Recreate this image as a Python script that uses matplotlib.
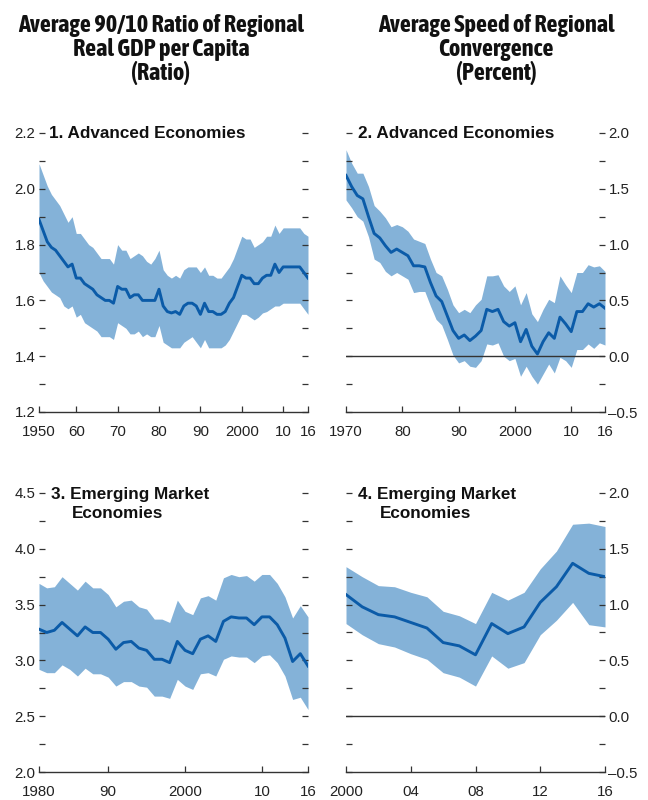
import matplotlib
matplotlib.use('Agg')
import matplotlib.pyplot as plt
from matplotlib import font_manager
from matplotlib.ticker import FixedLocator, MultipleLocator, FuncFormatter
import numpy as np

plt.rcParams['font.family'] = ['Liberation Sans', 'DejaVu Sans']

# ---------------- data ----------------
# Panel 1: 90/10 ratio, advanced economies, 1951-2016
p1_start, p1_end = 1951, 2016
p1_mean = [1.89, 1.85, 1.81, 1.79, 1.78, 1.76, 1.74, 1.72, 1.73, 1.68,
           1.68, 1.66, 1.65, 1.64, 1.62, 1.61, 1.60, 1.60, 1.59, 1.65,
           1.64, 1.64, 1.61, 1.62, 1.62, 1.60, 1.60, 1.60, 1.60, 1.64,
           1.58, 1.56, 1.555, 1.56, 1.55, 1.58, 1.59, 1.59, 1.58, 1.55,
           1.59, 1.56, 1.56, 1.55, 1.55, 1.56, 1.59, 1.61, 1.65, 1.69,
           1.68, 1.68, 1.66, 1.66, 1.68, 1.69, 1.69, 1.73, 1.70, 1.72,
           1.72, 1.72, 1.72, 1.72, 1.70, 1.68]
p1_upper = [2.09, 2.05, 2.01, 1.98, 1.96, 1.94, 1.91, 1.88, 1.90, 1.84,
            1.84, 1.82, 1.80, 1.79, 1.77, 1.75, 1.75, 1.75, 1.73, 1.80,
            1.78, 1.78, 1.75, 1.76, 1.77, 1.76, 1.74, 1.73, 1.75, 1.78,
            1.71, 1.69, 1.68, 1.69, 1.68, 1.71, 1.72, 1.72, 1.72, 1.70,
            1.72, 1.69, 1.69, 1.68, 1.68, 1.70, 1.72, 1.75, 1.79, 1.83,
            1.82, 1.82, 1.79, 1.80, 1.81, 1.83, 1.83, 1.87, 1.84, 1.86,
            1.86, 1.86, 1.86, 1.86, 1.84, 1.83]
p1_lower = [1.70, 1.67, 1.65, 1.63, 1.62, 1.61, 1.58, 1.57, 1.58, 1.54,
            1.55, 1.52, 1.51, 1.50, 1.49, 1.47, 1.47, 1.47, 1.46, 1.52,
            1.51, 1.50, 1.48, 1.48, 1.49, 1.47, 1.48, 1.47, 1.47, 1.51,
            1.45, 1.44, 1.43, 1.43, 1.43, 1.45, 1.46, 1.47, 1.45, 1.43,
            1.46, 1.43, 1.43, 1.43, 1.43, 1.44, 1.46, 1.49, 1.52, 1.55,
            1.55, 1.54, 1.53, 1.54, 1.555, 1.56, 1.57, 1.58, 1.58, 1.59,
            1.59, 1.59, 1.59, 1.59, 1.57, 1.55]

# Panel 2: speed of convergence, advanced economies, 1970-2016
p2_start, p2_end = 1970, 2016
p2_mean = [1.62, 1.52, 1.44, 1.41, 1.25, 1.10, 1.06, 0.99, 0.93, 0.96,
           0.93, 0.90, 0.81, 0.81, 0.80, 0.66, 0.54, 0.49, 0.36, 0.23,
           0.16, 0.19, 0.14, 0.18, 0.23, 0.42, 0.40, 0.42, 0.31, 0.27,
           0.30, 0.13, 0.24, 0.09, 0.02, 0.13, 0.21, 0.16, 0.35, 0.29,
           0.22, 0.40, 0.40, 0.47, 0.44, 0.47, 0.43]
p2_upper = [1.85, 1.73, 1.64, 1.64, 1.52, 1.35, 1.30, 1.24, 1.16, 1.18,
            1.16, 1.12, 1.05, 1.03, 1.01, 0.87, 0.75, 0.72, 0.60, 0.46,
            0.39, 0.42, 0.39, 0.46, 0.51, 0.72, 0.72, 0.73, 0.63, 0.58,
            0.63, 0.46, 0.57, 0.38, 0.31, 0.42, 0.51, 0.48, 0.72, 0.64,
            0.57, 0.75, 0.75, 0.82, 0.80, 0.81, 0.76]
p2_lower = [1.40, 1.33, 1.25, 1.21, 1.07, 0.87, 0.84, 0.76, 0.72, 0.75,
            0.72, 0.69, 0.57, 0.58, 0.58, 0.45, 0.33, 0.28, 0.15, 0.01,
            -0.06, -0.04, -0.09, -0.10, -0.04, 0.11, 0.10, 0.12, 0.00, -0.04,
            -0.02, -0.18, -0.09, -0.18, -0.25, -0.16, -0.07, -0.15, -0.01, -0.04,
            -0.10, 0.06, 0.06, 0.11, 0.07, 0.12, 0.10]

# Panel 3: 90/10 ratio, emerging market economies, 1981-2016
p3_start, p3_end = 1981, 2016
p3_mean = [3.28, 3.25, 3.27, 3.34, 3.28, 3.22, 3.30, 3.25, 3.25, 3.19,
           3.10, 3.16, 3.17, 3.11, 3.09, 3.01, 3.01, 2.98, 3.17, 3.09,
           3.06, 3.19, 3.22, 3.17, 3.35, 3.39, 3.38, 3.38, 3.32, 3.39,
           3.39, 3.32, 3.20, 2.99, 3.06, 2.95]
p3_upper = [3.69, 3.65, 3.66, 3.75, 3.69, 3.63, 3.71, 3.65, 3.65, 3.59,
            3.48, 3.53, 3.54, 3.48, 3.46, 3.37, 3.37, 3.34, 3.54, 3.44,
            3.41, 3.56, 3.58, 3.54, 3.74, 3.77, 3.75, 3.76, 3.71, 3.77,
            3.77, 3.69, 3.57, 3.38, 3.49, 3.39]
p3_lower = [2.92, 2.89, 2.89, 2.96, 2.92, 2.86, 2.93, 2.88, 2.88, 2.85,
            2.77, 2.81, 2.81, 2.77, 2.76, 2.68, 2.68, 2.66, 2.83, 2.77,
            2.74, 2.88, 2.89, 2.86, 3.01, 3.04, 3.03, 3.03, 2.98, 3.04,
            3.05, 2.98, 2.86, 2.65, 2.67, 2.56]

# Panel 4: speed of convergence, emerging market economies, 2000-2016
p4_start, p4_end = 2000, 2016
p4_mean = [1.09, 0.98, 0.91, 0.89, 0.84, 0.79, 0.66, 0.63, 0.55, 0.83,
           0.74, 0.80, 1.02, 1.16, 1.37, 1.28, 1.25]
p4_upper = [1.34, 1.25, 1.17, 1.16, 1.11, 1.07, 0.94, 0.90, 0.83, 1.11,
            1.04, 1.11, 1.32, 1.48, 1.72, 1.73, 1.70]
p4_lower = [0.83, 0.73, 0.65, 0.62, 0.56, 0.51, 0.39, 0.35, 0.27, 0.54,
            0.43, 0.48, 0.73, 0.86, 1.02, 0.82, 0.80]

# tick labels
p1_xticks = [1951, 1960, 1970, 1980, 1990, 2000, 2010, 2016]
p1_xlabels = ['1950', '60', '70', '80', '90', '2000', '10', '16']
p2_xticks = [1970, 1980, 1990, 2000, 2010, 2016]
p2_xlabels = ['1970', '80', '90', '2000', '10', '16']
p3_xticks = [1981, 1990, 2000, 2010, 2016]
p3_xlabels = ['1980', '90', '2000', '10', '16']
p4_xticks = [2000, 2004, 2008, 2012, 2016]
p4_xlabels = ['2000', '04', '08', '12', '16']

title_left = ["Average 90/10 Ratio of Regional", "Real GDP per Capita", "(Ratio)"]
title_right = ["Average Speed of Regional", "Convergence", "(Percent)"]

# ---------------- fonts ----------------
def find_condensed():
    for f in font_manager.fontManager.ttflist:
        if ('Narrow' in f.name or 'Condensed' in f.name) and f.weight in ('bold', 700):
            return f.name, 'normal'
    for f in font_manager.fontManager.ttflist:
        st = f.stretch
        if (isinstance(st, str) and 'condensed' in st) or (isinstance(st, int) and st < 500):
            return f.name, 'condensed'
    return 'Liberation Sans', 'normal'

COND_FAMILY, COND_STRETCH = find_condensed()

# ---------------- style ----------------
BAND = '#84b2d8'
LINE = '#0b5ba8'
DARK = '#222222'
TICKFS = 10.8

fig = plt.figure(figsize=(6.48, 8.0), dpi=100)
W, H = 648.0, 800.0

def pos(x0, y_top, x1, y_bot):
    return [x0 / W, 1 - y_bot / H, (x1 - x0) / W, (y_bot - y_top) / H]

ax1 = fig.add_axes(pos(39, 133, 308, 412))
ax2 = fig.add_axes(pos(346, 133, 605, 412))
ax3 = fig.add_axes(pos(39, 493, 308, 772))
ax4 = fig.add_axes(pos(346, 493, 605, 772))

def fmt_num(v, _):
    return f"{v:.1f}".replace('-', '\u2013')

def draw(ax, start, end, mean, lo, hi, ylim, major, minor, xticks, xlabels,
         side, zero=False):
    yrs = np.arange(start, end + 1)
    ax.fill_between(yrs, lo, hi, color=BAND, lw=0, zorder=1)
    if zero:
        ax.axhline(0, color='#333333', lw=1.0, zorder=2)
    ax.plot(yrs, mean, color=LINE, lw=2.1, zorder=3)
    ax.set_xlim(start, end)
    ax.set_ylim(*ylim)
    for s in ['left', 'right', 'top']:
        ax.spines[s].set_visible(False)
    ax.spines['bottom'].set_color('#333333')
    ax.spines['bottom'].set_linewidth(1.0)
    ax.yaxis.set_major_locator(MultipleLocator(major))
    ax.yaxis.set_minor_locator(MultipleLocator(minor))
    ax.yaxis.set_major_formatter(FuncFormatter(fmt_num))
    ax.xaxis.set_major_locator(FixedLocator(xticks))
    ax.set_xticklabels(xlabels)
    ax.tick_params(axis='y', which='both', direction='in', left=True, right=True,
                   length=4.0, width=0.9, color='#333333')
    ax.tick_params(axis='y', which='major', labelleft=(side == 'left'),
                   labelright=(side == 'right'), pad=2.5, labelsize=TICKFS,
                   labelcolor=DARK)
    ax.tick_params(axis='x', which='major', direction='in', length=4.0, width=0.9,
                   color='#333333', pad=9.5, labelsize=TICKFS, labelcolor=DARK)
    ax.tick_params(axis='x', which='minor', bottom=False)
    ax.set_facecolor('none')

draw(ax1, p1_start, p1_end, p1_mean, p1_lower, p1_upper, (1.2, 2.2), 0.2, 0.1,
     p1_xticks, p1_xlabels, 'left')
draw(ax2, p2_start, p2_end, p2_mean, p2_lower, p2_upper, (-0.5, 2.0), 0.5, 0.25,
     p2_xticks, p2_xlabels, 'right', zero=True)
draw(ax3, p3_start, p3_end, p3_mean, p3_lower, p3_upper, (2.0, 4.5), 0.5, 0.25,
     p3_xticks, p3_xlabels, 'left')
draw(ax4, p4_start, p4_end, p4_mean, p4_lower, p4_upper, (-0.5, 2.0), 0.5, 0.25,
     p4_xticks, p4_xlabels, 'right', zero=True)

# panel titles
PT = dict(fontsize=12.3, fontweight='bold', color='#111111', va='baseline', ha='left')
ax1.text(0.038, 0.982, "1. Advanced Economies", transform=ax1.transAxes, **PT)
ax2.text(0.047, 0.982, "2. Advanced Economies", transform=ax2.transAxes, **PT)
ax3.text(0.0435, 0.979, "3. Emerging Market", transform=ax3.transAxes, **PT)
ax3.text(0.124, 0.909, "Economies", transform=ax3.transAxes, **PT)
ax4.text(0.0475, 0.979, "4. Emerging Market", transform=ax4.transAxes, **PT)
ax4.text(0.131, 0.909, "Economies", transform=ax4.transAxes, **PT)

# column titles, sized so the widest line matches the reference width
TT = dict(fontweight='bold', color='#111111', ha='center', va='baseline',
          family=[COND_FAMILY, 'Liberation Sans', 'DejaVu Sans'],
          fontstretch=COND_STRETCH)
probe = fig.text(0, 0, title_left[0], fontsize=14, **TT)
fig.canvas.draw()
w = probe.get_window_extent().width
probe.remove()
tfs = 14 * 286.0 / max(w, 1)
baselines = [32, 56, 80]
for line, yb in zip(title_left, baselines):
    fig.text(161 / W, 1 - yb / H, line, fontsize=tfs, **TT)
for line, yb in zip(title_right, baselines):
    fig.text(496 / W, 1 - yb / H, line, fontsize=tfs, **TT)

fig.savefig('out.png', dpi=100)
